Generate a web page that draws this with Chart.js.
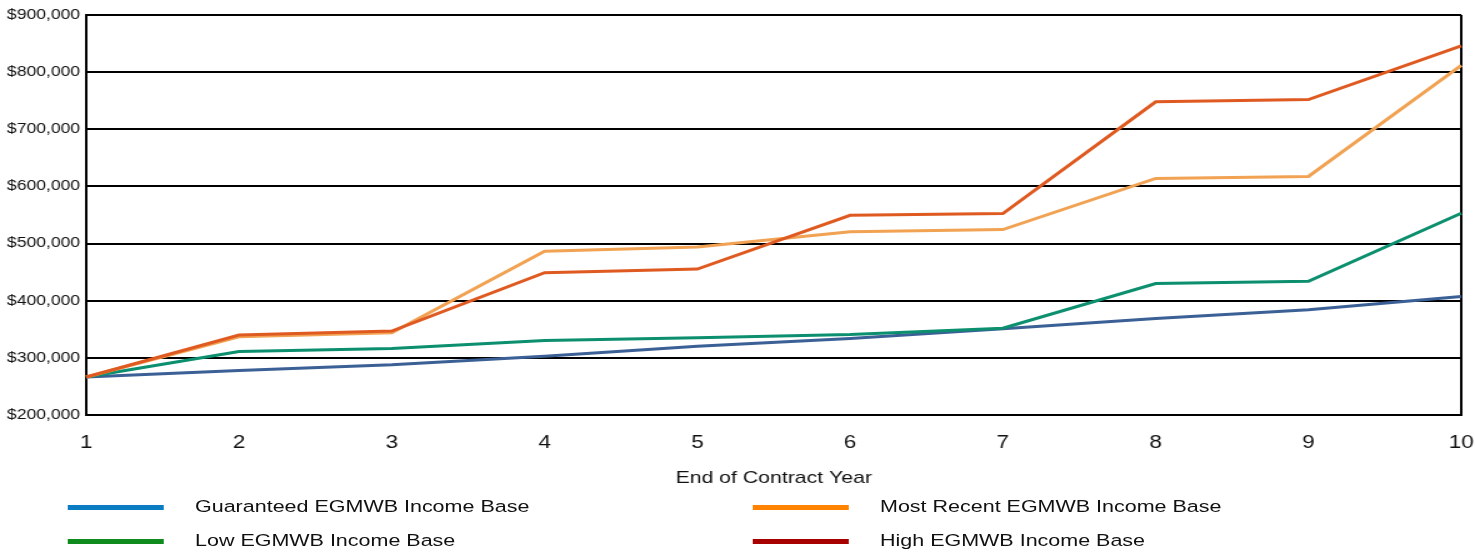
<!DOCTYPE html>
<html>
<head>
<meta charset="utf-8">
<title>EGMWB Income Base by Contract Year</title>
<script src="https://cdn.jsdelivr.net/npm/chart.js@4.4.1/dist/chart.umd.min.js"></script>
<style>
  html, body { margin: 0; padding: 0; background: #ffffff; }
  body { width: 1475px; height: 552px; overflow: hidden; position: relative; }
  /* The chart is laid out at a narrower width and widened horizontally */
  #stage {
    position: absolute; left: 0; top: 0;
    width: 1196px; height: 552px;
    transform: scaleX(1.25); transform-origin: 0 0;
  }
  #stage canvas { position: absolute; left: 0; top: 0; }
  .swatch { position: absolute; height: 5px; width: 77px; }
  .label {
    position: absolute; font-family: "Liberation Sans", Arial, sans-serif;
    font-size: 17.2px; line-height: 1; color: #111; white-space: nowrap;
    transform: translateY(-50%);
  }
</style>
</head>
<body>
<div id="stage">
  <canvas id="chart"></canvas>
  <div id="legend"></div>
</div>
<script>
// End of contract year (category axis)
const years = ['1', '2', '3', '4', '5', '6', '7', '8', '9', '10'];

// Income base values by series
const guaranteed = [266500, 278000, 288000, 303000, 320500, 334000, 351000, 369000, 384000, 407500];
const low        = [266500, 311000, 316500, 330500, 335000, 341000, 352000, 430000, 434000, 553000];
const mostRecent = [266500, 337000, 344000, 486500, 494000, 520500, 524500, 614000, 617500, 812000];
const high       = [266500, 340000, 347000, 449000, 455500, 549500, 552500, 748000, 752000, 846000];

const seriesNames = [
  'Guaranteed EGMWB Income Base',
  'Most Recent EGMWB Income Base',
  'Low EGMWB Income Base',
  'High EGMWB Income Base'
];

const FONT = '"Liberation Sans", Arial, sans-serif';

const money = v => '$' + Math.round(v).toLocaleString('en-US');

const lineDataset = (label, data, color, order) => ({
  label, data, borderColor: color, backgroundColor: color,
  borderWidth: 3, pointRadius: 0, pointHoverRadius: 0,
  tension: 0, fill: false, order
});

new Chart(document.getElementById('chart'), {
  type: 'line',
  data: {
    labels: years,
    datasets: [
      lineDataset(seriesNames[0], guaranteed, '#3b6096', 4),
      lineDataset(seriesNames[2], low,        '#0b8f6e', 3),
      lineDataset(seriesNames[1], mostRecent, '#f1a252', 2),
      lineDataset(seriesNames[3], high,       '#df5a21', 1)
    ]
  },
  options: {
    responsive: true,
    maintainAspectRatio: false,
    animation: false,
    layout: { padding: { top: 15, right: 10, bottom: 62, left: 0 } },
    plugins: {
      legend: { display: false },
      tooltip: { enabled: false }
    },
    scales: {
      x: {
        type: 'category',
        offset: false,
        afterFit: s => { s.height = 75; },
        grid: {
          drawTicks: false,
          lineWidth: 2,
          color: c => (c.index === years.length - 1 ? '#000' : 'rgba(0,0,0,0)')
        },
        border: { display: true, color: '#000', width: 2 },
        ticks: {
          color: '#111', padding: 17, maxRotation: 0,
          font: { family: FONT, size: 18 }
        },
        title: {
          display: true, text: 'End of Contract Year', color: '#111',
          padding: { top: 0, bottom: 1 },
          font: { family: FONT, size: 17 }
        }
      },
      y: {
        min: 200000, max: 900000,
        afterFit: s => { s.width = 69; },
        grid: { drawTicks: false, color: '#000', lineWidth: 2 },
        border: { display: true, color: '#000', width: 2 },
        ticks: {
          stepSize: 100000, padding: 5, color: '#111',
          font: { family: FONT, size: 14 },
          callback: v => money(v)
        }
      }
    }
  }
});

// Legend below the chart, two columns
const legendItems = [
  { name: seriesNames[0], color: '#0a7dc2', x: 53.6,  y: 507 },
  { name: seriesNames[2], color: '#0f8a1c', x: 53.6,  y: 541 },
  { name: seriesNames[1], color: '#ff8200', x: 601.6, y: 507 },
  { name: seriesNames[3], color: '#a60000', x: 601.6, y: 541 }
];
const legend = document.getElementById('legend');
legendItems.forEach(item => {
  const sw = document.createElement('div');
  sw.className = 'swatch';
  sw.style.left = item.x + 'px';
  sw.style.top = (item.y - 2.5) + 'px';
  sw.style.background = item.color;
  legend.appendChild(sw);
  const lb = document.createElement('div');
  lb.className = 'label';
  lb.style.left = (item.x + 102.4) + 'px';
  lb.style.top = item.y + 'px';
  lb.textContent = item.name;
  legend.appendChild(lb);
});
</script>
</body>
</html>
